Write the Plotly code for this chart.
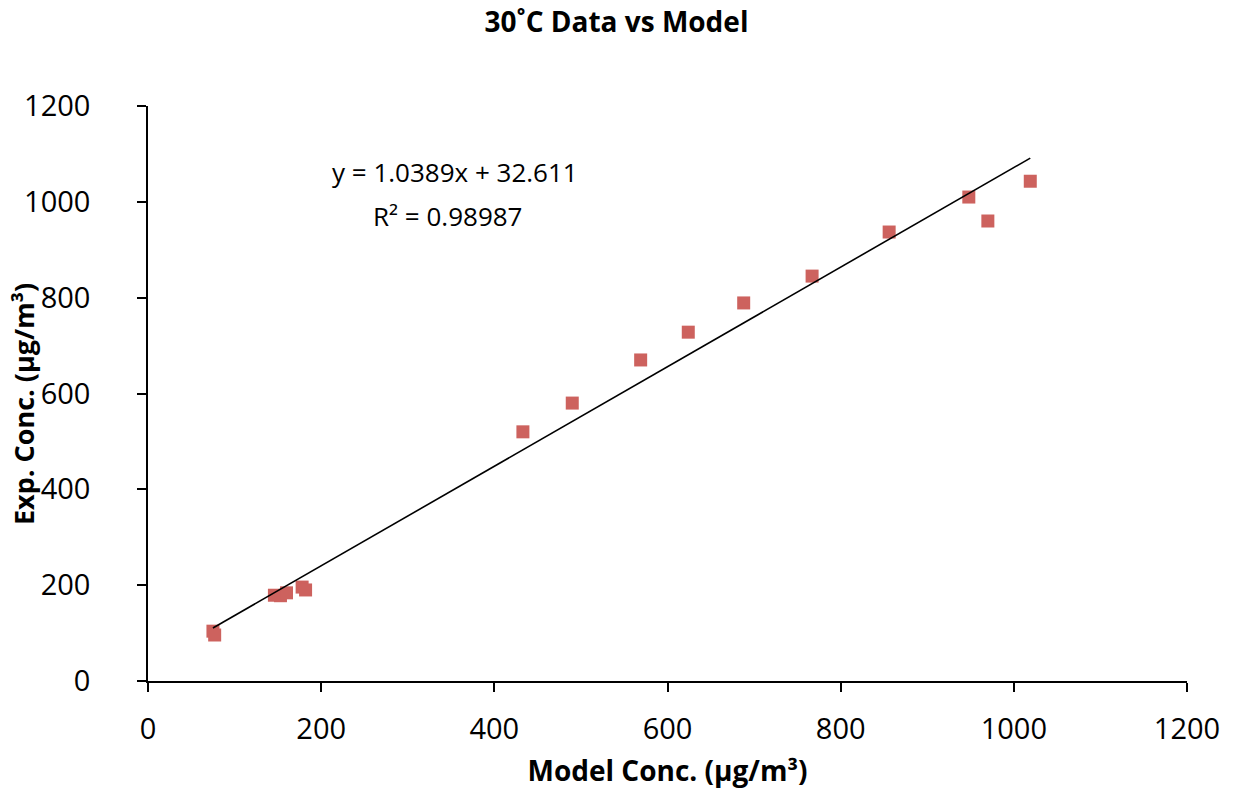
import numpy as np
import plotly.graph_objects as go

model_conc = [75, 77, 146, 153, 160, 178, 182, 433, 490, 569, 624, 688, 767, 856, 948, 970, 1019]
exp_conc = [104, 96, 179, 178, 184, 196, 190, 520, 580, 670, 728, 789, 845, 937, 1010, 960, 1043]
slope = 1.0389
intercept = 32.611
r2 = 0.98987
x_ticks = [0, 200, 400, 600, 800, 1000, 1200]
y_ticks = [0, 200, 400, 600, 800, 1000, 1200]

xl = np.array([min(model_conc), max(model_conc)])
yl = slope * xl + intercept

# plot-area pixel geometry
L, R, T, B, W, H = 148, 46, 106, 111, 1233, 792
PW, PH = W - L - R, H - T - B

def px(xp):
    return (xp - L) / PW

def py(yp):
    return (H - B - yp) / PH

fig = go.Figure()
fig.add_trace(go.Scatter(x=model_conc, y=exp_conc, mode="markers",
                         marker=dict(symbol="square", size=13, color="rgb(205,98,94)",
                                     line=dict(width=0)),
                         showlegend=False))
fig.add_trace(go.Scatter(x=xl, y=yl, mode="lines", line=dict(color="black", width=1.6),
                         showlegend=False))

font_family = "Open Sans"
fig.add_annotation(x=px(455), y=py(172), xref="paper", yref="paper", showarrow=False,
                   xanchor="center", yanchor="middle",
                   text=f"y = {slope}x + {intercept}", font=dict(family=font_family, size=26, color="black"))
fig.add_annotation(x=px(448), y=py(216), xref="paper", yref="paper", showarrow=False,
                   xanchor="center", yanchor="middle",
                   text=f"R² = {r2}", font=dict(family=font_family, size=26, color="black"))
fig.add_annotation(x=px(24), y=py(404), xref="paper", yref="paper", showarrow=False,
                   xanchor="center", yanchor="middle", textangle=-90,
                   text="<b>Exp. Conc. (µg/m³)</b>", font=dict(family=font_family, size=27, color="black"))

fig.update_layout(
    width=W, height=H,
    margin=dict(l=L, r=R, t=T, b=B, autoexpand=False),
    paper_bgcolor="white", plot_bgcolor="white",
    title=dict(text="<b>30˚C Data vs Model</b>", x=0.5, xanchor="center", y=1 - 22 / H, yanchor="middle",
               font=dict(family=font_family, size=28, color="black")),
    font=dict(family=font_family, color="black"),
    xaxis=dict(range=[0, 1200], tickvals=x_ticks, ticks="outside", ticklen=9, tickcolor="black", tickwidth=1.5,
               showline=True, linecolor="black", linewidth=1.5, showgrid=False, zeroline=False,
               ticklabelstandoff=12, automargin=False,
               tickfont=dict(size=29), title=dict(text="<b>Model Conc. (µg/m³)</b>", font=dict(size=28), standoff=16)),
    yaxis=dict(range=[0, 1200], tickvals=y_ticks, ticks="outside", ticklen=9, tickcolor="black", tickwidth=1.5,
               showline=True, linecolor="black", linewidth=1.5, showgrid=False, zeroline=False,
               ticklabelstandoff=41, automargin=False,
               tickfont=dict(size=29)),
)

fig.write_html("out.html")
